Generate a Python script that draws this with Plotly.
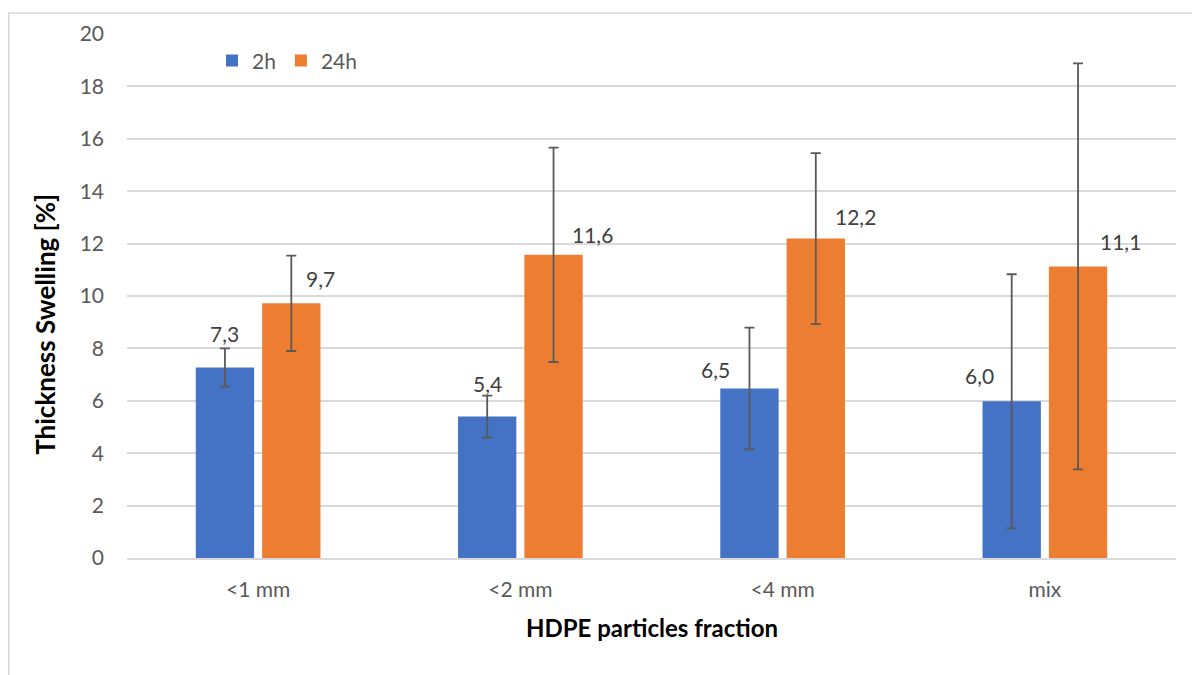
import plotly.graph_objects as go

# Daten aus dem Diagramm
fractions = ["<1 mm", "<2 mm", "<4 mm", "mix"]
swell_2h = [7.27, 5.40, 6.47, 5.98]
swell_24h = [9.72, 11.57, 12.19, 11.13]
err_2h = [0.73, 0.80, 2.32, 4.85]
err_24h = [1.82, 4.09, 3.26, 7.75]
y_ticks = [0, 2, 4, 6, 8, 10, 12, 14, 16, 18, 20]

# Layout (Seitenpixel; der Browser setzt 8 px Rand um die Figur)
OFF = 8
W, H = 1200 - OFF, 675 - OFF
PX0, PX1, PY0, PY1 = 127, 1176, 30, 558      # Plotbereich auf der Seite
L, R = PX0 - OFF, 1200 - PX1
T, B = PY0 - OFF, 675 - PY1
pw, ph = PX1 - PX0, PY1 - PY0
BARGAP = 0.494
FONT = "Lato"
GREY = "#595959"
FS = 21


def px(x):   # Seiten-x -> paper
    return (x - PX0) / pw


def py(y):   # Seiten-y -> paper
    return (PY1 - y) / ph


# Versatz der Wertebeschriftungen (dx, dy in px) - Excel weicht den Fehlerbalken aus
shift_2h = [(0, 34), (0, 33), (-34, 19), (-32, 26)]
shift_24h = [(29, 25), (39, 20), (40, 22), (42, 25)]


def fmt(v):
    return f"{v:.1f}".replace(".", ",")


fig = go.Figure()

fig.add_trace(go.Bar(
    x=fractions, y=swell_2h, name="2h",
    marker=dict(color="#4472C4", line=dict(width=0)),
    error_y=dict(type="data", array=err_2h, color=GREY, thickness=1.8, width=5),
))
fig.add_trace(go.Bar(
    x=fractions, y=swell_24h, name="24h",
    marker=dict(color="#ED7D31", line=dict(width=0)),
    error_y=dict(type="data", array=err_24h, color=GREY, thickness=1.8, width=5),
))

# Wertebeschriftungen
off = (1 - BARGAP) / 4
for i in range(len(fractions)):
    for vals, shifts, sign in ((swell_2h, shift_2h, -1), (swell_24h, shift_24h, 1)):
        dx, dy = shifts[i]
        fig.add_annotation(
            x=i + sign * off, y=vals[i], xref="x", yref="y",
            text=fmt(vals[i]), showarrow=False,
            xshift=dx, yshift=dy, xanchor="center", yanchor="middle",
            font=dict(family=FONT, size=FS, color="#404040"),
        )

# Achsentitel
fig.add_annotation(
    x=px(45), y=py(323), xref="paper", yref="paper",
    xanchor="center", yanchor="middle",
    text="<b>Thickness Swelling [%]</b>", textangle=-90, showarrow=False,
    font=dict(family=FONT, size=26, color="black"),
)
fig.add_annotation(
    x=0.5, y=py(628), xref="paper", yref="paper",
    xanchor="center", yanchor="middle",
    text="<b>HDPE particles fraction</b>", showarrow=False,
    font=dict(family=FONT, size=24, color="black"),
)

# Rahmen des Diagrammbereichs
fig.add_shape(
    type="rect", xref="paper", yref="paper",
    x0=px(OFF + 0.75), x1=px(1230), y0=py(700), y1=py(OFF + 0.75),
    line=dict(color="#d9d9d9", width=1.5), fillcolor="rgba(0,0,0,0)", layer="below",
)

fig.update_layout(
    width=W, height=H,
    margin=dict(l=L, r=R, t=T, b=B),
    paper_bgcolor="white", plot_bgcolor="white",
    barmode="group", bargap=BARGAP, bargroupgap=0.121,
    font=dict(family=FONT, size=FS, color=GREY),
    showlegend=True,
    legend=dict(
        orientation="h", x=px(212), y=py(57),
        xanchor="left", yanchor="middle",
        font=dict(family=FONT, size=FS, color=GREY),
        bgcolor="rgba(0,0,0,0)", itemwidth=30, traceorder="normal",
    ),
    xaxis=dict(
        showgrid=False, showline=True, linecolor="#d9d9d9", linewidth=1.5,
        ticks="", tickfont=dict(family=FONT, size=FS, color=GREY),
        ticklabelstandoff=12,
    ),
    yaxis=dict(
        range=[0, 20], tickvals=y_ticks, showgrid=True,
        gridcolor="#d9d9d9", gridwidth=1.5, zeroline=False, showline=False,
        ticks="", tickfont=dict(family=FONT, size=FS, color=GREY),
        ticklabelstandoff=22,
    ),
)

fig.write_html("out.html")
